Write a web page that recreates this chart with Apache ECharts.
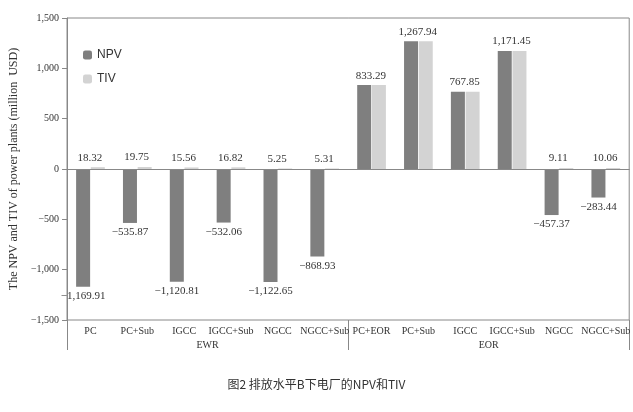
<!DOCTYPE html><html><head><meta charset="utf-8"><script src="https://cdn.jsdelivr.net/npm/echarts@6/dist/echarts.min.js"></script>
<style>html,body{margin:0;background:#fff}#c{width:633px;height:412px}</style></head><body><div id="c"></div><script>
const categories=['PC','PC+Sub','IGCC','IGCC+Sub','NGCC','NGCC+Sub','PC+EOR','PC+Sub','IGCC','IGCC+Sub','NGCC','NGCC+Sub'];
const groups=['EWR','EOR'];
const npv=[-1169.91,-535.87,-1120.81,-532.06,-1122.65,-868.93,833.29,1267.94,767.85,1171.45,-457.37,-283.44];
const tiv=[18.32,19.75,15.56,16.82,5.25,5.31,833.29,1267.94,767.85,1171.45,9.11,10.06];
const yTicks={min:-1500,max:1500,interval:500};
const fmt=v=>{const s=Math.abs(v).toLocaleString('en-US',{minimumFractionDigits:2,maximumFractionDigits:2});return v<0?'\u2212'+s:s;};
const F='Liberation Serif';
const c=echarts.init(document.getElementById('c'));
c.setOption({
 animation:false,
 textStyle:{fontFamily:F,color:'#333'},
 grid:{left:62,right:2,top:18,bottom:92,show:true,borderColor:'#888',borderWidth:1},
 legend:{orient:'vertical',left:78,top:44,itemWidth:9,itemHeight:9,itemGap:12,textStyle:{fontFamily:'Liberation Sans',fontSize:12,color:'#333'},data:['NPV','TIV']},
 xAxis:[{type:'category',data:categories,position:'bottom',axisLine:{lineStyle:{color:'#888'}},axisTick:{length:10,interval:0,lineStyle:{color:'#888'}},axisLabel:{interval:0,fontFamily:F,fontSize:10,color:'#333',margin:6}},
  {type:'category',data:groups,position:'bottom',offset:0,gridIndex:0,axisLine:{show:false},axisTick:{show:true,length:30,lineStyle:{color:'#888'}},axisLabel:{fontFamily:F,fontSize:10,color:'#333',margin:20}}],
 yAxis:{type:'value',min:yTicks.min,max:yTicks.max,interval:yTicks.interval,splitLine:{show:false},axisLine:{show:true,lineStyle:{color:'#888'}},axisTick:{show:true,lineStyle:{color:'#888'}},
  axisLabel:{fontFamily:F,fontSize:10,color:'#333',formatter:v=>v<0?'\u2212'+Math.abs(v).toLocaleString('en-US'):v.toLocaleString('en-US')},
  name:'The NPV and TIV of power plants (million  USD)',nameLocation:'middle',nameGap:42,nameTextStyle:{fontFamily:F,fontSize:12,color:'#333'}},
 series:[
  {name:'NPV',type:'bar',data:npv,barWidth:14,barGap:'5%',itemStyle:{color:'#7f7f7f'},
   label:{show:true,fontFamily:F,fontSize:11,color:'#333',formatter:p=>p.value<0?fmt(p.value):'',position:'bottom',distance:4},
   markLine:{silent:true,symbol:'none',label:{show:false},lineStyle:{color:'#888',type:'solid',width:1},data:[{yAxis:0}]}},
  {name:'TIV',type:'bar',data:tiv,barWidth:14,itemStyle:{color:'#d3d3d3'},
   label:{show:true,fontFamily:F,fontSize:11,color:'#333',position:'top',offset:[-8,0],distance:4,formatter:p=>fmt(p.value)}}
 ],
 graphic:[{type:'text',left:'center',top:378,style:{text:'图2 排放水平B下电厂的NPV和TIV',fontFamily:'Noto Sans CJK SC',fontSize:12,fill:'#333'}}]
});
</script></body></html>
